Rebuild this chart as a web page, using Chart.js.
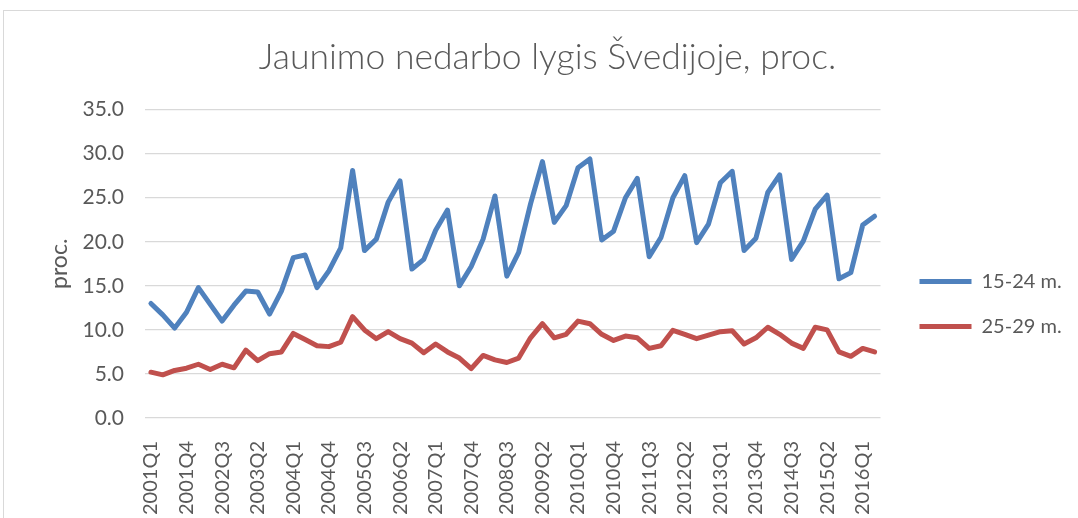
<!DOCTYPE html>
<html lang="lt">
<head>
  <meta charset="UTF-8" />
  <title>Jaunimo nedarbo lygis Švedijoje</title>
  <script src="https://cdn.jsdelivr.net/npm/chart.js"></script>
  <style>
    html, body { margin: 0; padding: 0; background: #fff; overflow: hidden; }
    .frame {
      position: absolute;
      left: 3px;
      top: 10px;
      width: 1100px;
      height: 600px;
      border: 1px solid #d9d9d9;
      background: #fff;
    }
    #chart { position: absolute; left: 23px; top: 0; }
  </style>
</head>
<body>
  <div class="frame">
    <canvas id="chart" width="1041" height="586"></canvas>
  </div>
  <script>
    const quarters = [
      '2001Q1', '2001Q2', '2001Q3', '2001Q4', '2002Q1', '2002Q2', '2002Q3', '2002Q4',
      '2003Q1', '2003Q2', '2003Q3', '2003Q4', '2004Q1', '2004Q2', '2004Q3', '2004Q4',
      '2005Q1', '2005Q2', '2005Q3', '2005Q4', '2006Q1', '2006Q2', '2006Q3', '2006Q4',
      '2007Q1', '2007Q2', '2007Q3', '2007Q4', '2008Q1', '2008Q2', '2008Q3', '2008Q4',
      '2009Q1', '2009Q2', '2009Q3', '2009Q4', '2010Q1', '2010Q2', '2010Q3', '2010Q4',
      '2011Q1', '2011Q2', '2011Q3', '2011Q4', '2012Q1', '2012Q2', '2012Q3', '2012Q4',
      '2013Q1', '2013Q2', '2013Q3', '2013Q4', '2014Q1', '2014Q2', '2014Q3', '2014Q4',
      '2015Q1', '2015Q2', '2015Q3', '2015Q4', '2016Q1', '2016Q2'
    ];

    // 15-24 m.
    const age15to24 = [
      13.0, 11.7, 10.2, 12.0, 14.8, 12.9, 11.0, 12.8, 14.4, 14.3, 11.8, 14.4,
      18.2, 18.5, 14.8, 16.7, 19.3, 28.1, 19.0, 20.3, 24.5, 26.9, 16.9, 18.0, 21.3,
      23.6, 15.0, 17.2, 20.3, 25.2, 16.1, 18.8, 24.3, 29.1, 22.2, 24.1, 28.4, 29.4,
      20.2, 21.2, 25.0, 27.2, 18.3, 20.5, 25.0, 27.5, 19.9, 22.0, 26.7, 28.0,
      19.0, 20.4, 25.6, 27.6, 18.0, 20.1, 23.7, 25.3, 15.8, 16.5, 21.9, 22.9
    ];

    // 25-29 m.
    const age25to29 = [
      5.2, 4.9, 5.4, 5.65, 6.1, 5.5, 6.1, 5.7, 7.7, 6.5, 7.3, 7.5,
      9.6, 8.9, 8.2, 8.1, 8.6, 11.5, 10.0, 9.0, 9.8, 9.0, 8.5, 7.4, 8.4,
      7.5, 6.8, 5.6, 7.1, 6.6, 6.3, 6.8, 9.1, 10.7, 9.1, 9.5, 11.0, 10.7,
      9.5, 8.8, 9.3, 9.1, 7.9, 8.2, 9.95, 9.5, 9.0, 9.4, 9.8, 9.9,
      8.4, 9.1, 10.3, 9.5, 8.5, 7.9, 10.3, 10.0, 7.5, 7.0, 7.9, 7.5
    ];

    const yTicks = [0, 5, 10, 15, 20, 25, 30, 35];

    const textColor = '#595959';
    const gridColor = '#d9d9d9';

    new Chart(document.getElementById('chart'), {
      type: 'line',
      data: {
        labels: quarters,
        datasets: [{
          label: '15-24 m.',
          data: age15to24,
          borderColor: '#4f81bd',
          backgroundColor: '#4f81bd',
          borderWidth: 5,
          borderCapStyle: 'round',
          borderJoinStyle: 'round',
          pointRadius: 0,
          tension: 0
        }, {
          label: '25-29 m.',
          data: age25to29,
          borderColor: '#c0504d',
          backgroundColor: '#c0504d',
          borderWidth: 5,
          borderCapStyle: 'round',
          borderJoinStyle: 'round',
          pointRadius: 0,
          tension: 0
        }]
      },
      options: {
        responsive: false,
        animation: false,
        layout: { padding: 0 },
        plugins: {
          title: {
            display: true,
            text: 'Jaunimo nedarbo lygis Švedijoje, proc.',
            color: textColor,
            font: { family: 'Lato', size: 35.5, weight: '300' },
            padding: { top: 25, bottom: 31 }
          },
          legend: {
            position: 'right',
            labels: {
              usePointStyle: true,
              pointStyle: 'line',
              pointStyleWidth: 52,
              padding: 25,
              color: textColor,
              font: { family: 'Lato', size: 20 }
            }
          },
          tooltip: { enabled: false }
        },
        scales: {
          x: {
            offset: true,
            grid: { display: false },
            border: { display: false },
            ticks: {
              autoSkip: false,
              minRotation: 90,
              maxRotation: 90,
              padding: 15,
              color: textColor,
              font: { family: 'Lato', size: 20 },
              callback: function (value, index) {
                return index % 3 === 0 ? quarters[index] : '';
              }
            },
            afterFit: function (scale) { scale.height = 179; }
          },
          y: {
            min: 0,
            max: 35,
            grid: { color: gridColor, lineWidth: 1.2, drawTicks: false },
            border: { display: false },
            afterBuildTicks: function (scale) {
              scale.ticks = yTicks.map(v => ({ value: v }));
            },
            ticks: {
              padding: 21,
              color: textColor,
              font: { family: 'Lato', size: 21 },
              callback: v => v.toFixed(1)
            },
            title: {
              display: true,
              text: 'proc.',
              color: textColor,
              font: { family: 'Lato', size: 23 },
              padding: { top: 19, bottom: 0 }
            },
            afterFit: function (scale) { scale.width = 118; }
          },
          gap: {
            type: 'linear',
            position: 'right',
            display: true,
            grid: { display: false },
            border: { display: false },
            ticks: { display: false },
            afterFit: function (scale) { scale.width = 14; }
          }
        }
      }
    });
  </script>
</body>
</html>
